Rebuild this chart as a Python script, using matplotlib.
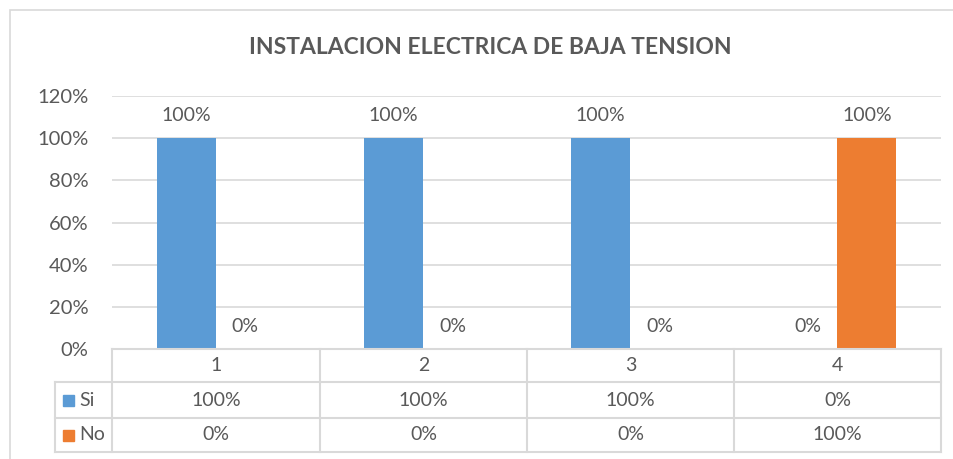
import matplotlib
matplotlib.use('Agg')
import matplotlib.pyplot as plt
from matplotlib.lines import Line2D
from matplotlib.patches import Rectangle

# data
categories = ['1', '2', '3', '4']
series_names = ['Si', 'No']
si_values = [1.0, 1.0, 1.0, 0.0]
no_values = [0.0, 0.0, 0.0, 1.0]
y_ticks = [0.0, 0.2, 0.4, 0.6, 0.8, 1.0, 1.2]
title = 'INSTALACION ELECTRICA DE BAJA TENSION'

W, H = 954, 459
text_col = '#595959'
grid_col = '#D9D9D9'
colors = ['#5B9BD5', '#ED7D31']

plt.rcParams['font.family'] = ['Lato', 'DejaVu Sans']

fig = plt.figure(figsize=(W / 100, H / 100), dpi=100)
fig.patch.set_facecolor('white')


def fx(x):
    return x / W


def fy(y):
    return 1 - y / H


# plot area in pixels
left, right, top, bottom = 112, 941, 96, 349
ax = fig.add_axes([fx(left), fy(bottom), fx(right) - fx(left), fy(top) - fy(bottom)])
ax.set_xlim(-0.5, len(categories) - 0.5)
ax.set_ylim(0, 1.2)

width = 0.285
x = list(range(len(categories)))
for i, (vals, name) in enumerate([(si_values, 'Si'), (no_values, 'No')]):
    offs = -width / 2 if i == 0 else width / 2
    pos = [xi + offs for xi in x]
    ax.bar(pos, vals, width=width, color=colors[i], zorder=3)
    for p, v in zip(pos, vals):
        ax.annotate(f'{v:.0%}', (p, v), xytext=(0, 23), textcoords='offset pixels',
                    ha='center', va='center', fontsize=14, color=text_col)

ax.set_yticks(y_ticks)
ax.set_yticklabels([f'{t:.0%}' for t in y_ticks], fontsize=14.5, color=text_col)
ax.tick_params(axis='y', length=0, pad=17)
ax.set_xticks([])
ax.grid(axis='y', color=grid_col, linewidth=1.2, zorder=0)
for s in ax.spines.values():
    s.set_visible(False)

fig.text(fx(490), fy(47), title, ha='center', va='center', fontsize=16.5,
         fontweight='bold', color=text_col)

# outer chart border
fig.add_artist(Rectangle((fx(10), fy(470)), fx(960) - fx(10), fy(10) - fy(470),
                         transform=fig.transFigure, fill=False, edgecolor=grid_col,
                         linewidth=1.2))

# data table
col_edges = [112, 320, 527, 734, 941]
row_edges = [349, 382, 418, 452]
leg_left = 55


def hline(x0, x1, y):
    fig.add_artist(Line2D([fx(x0), fx(x1)], [fy(y), fy(y)], transform=fig.transFigure,
                          color=grid_col, linewidth=1.5))


def vline(xp, y0, y1):
    fig.add_artist(Line2D([fx(xp), fx(xp)], [fy(y0), fy(y1)], transform=fig.transFigure,
                          color=grid_col, linewidth=1.5))


hline(col_edges[0], col_edges[-1], row_edges[0])
for y in row_edges[1:]:
    hline(leg_left, col_edges[-1], y)
for xp in col_edges:
    vline(xp, row_edges[0], row_edges[-1])
vline(leg_left, row_edges[1], row_edges[-1])

for j, cat in enumerate(categories):
    cx = (col_edges[j] + col_edges[j + 1]) / 2
    fig.text(fx(cx), fy((row_edges[0] + row_edges[1]) / 2), cat, ha='center', va='center',
             fontsize=14, color=text_col)
    for r, vals in enumerate([si_values, no_values]):
        cy = (row_edges[r + 1] + row_edges[r + 2]) / 2
        fig.text(fx(cx), fy(cy), f'{vals[j]:.0%}', ha='center', va='center',
                 fontsize=14, color=text_col)

for r, name in enumerate(series_names):
    cy = (row_edges[r + 1] + row_edges[r + 2]) / 2
    fig.add_artist(Rectangle((fx(63), fy(cy + 5.5)), fx(11), 11 / H,
                             transform=fig.transFigure, color=colors[r]))
    fig.text(fx(79), fy(cy), name, ha='left', va='center', fontsize=14, color=text_col)

plt.savefig('out.png', dpi=100)
